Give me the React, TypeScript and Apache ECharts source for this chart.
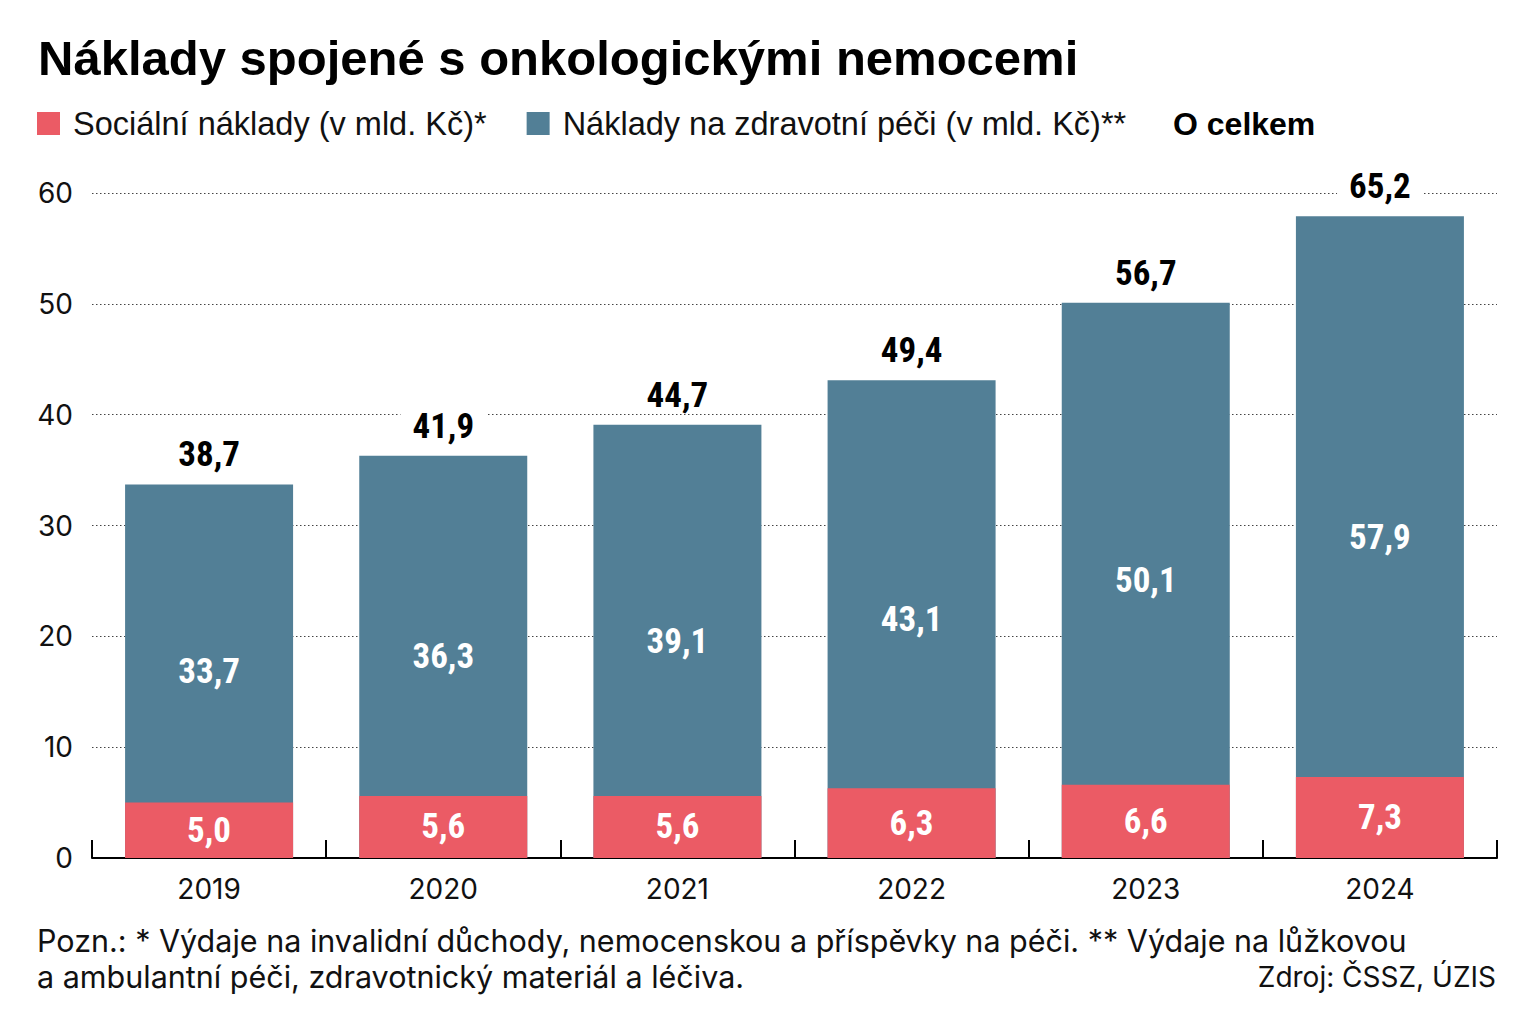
import React, { useEffect, useRef } from "react";
import * as echarts from "echarts";

const years = ["2019", "2020", "2021", "2022", "2023", "2024"];
const socialCosts = [5.0, 5.6, 5.6, 6.3, 6.6, 7.3];
const healthCosts = [33.7, 36.3, 39.1, 43.1, 50.1, 57.9];
const totals = [38.7, 41.9, 44.7, 49.4, 56.7, 65.2];

const titleText = "Náklady spojené s onkologickými nemocemi";
const socialName = "Sociální náklady (v mld. Kč)*";
const healthName = "Náklady na zdravotní péči (v mld. Kč)**";
const totalName = "O celkem";
const noteLines = [
  "Pozn.: * Výdaje na invalidní důchody, nemocenskou a příspěvky na péči. ** Výdaje na lůžkovou",
  "a ambulantní péči, zdravotnický materiál a léčiva.",
];
const sourceText = "Zdroj: ČSSZ, ÚZIS";

const SANS = "'Liberation Sans', Arial, Helvetica, sans-serif";
const WIDE = "Inter, 'Liberation Sans', Arial, sans-serif";
const NARROW = "'Liberation Sans Narrow', 'Arial Narrow', 'Roboto Condensed', sans-serif";
const RED = "#EB5B65";
const BLUE = "#527F96";
const INK = "#111111";

const fmt = (v: number) => v.toFixed(1).replace(".", ",");

export default function App() {
  const ref = useRef<HTMLDivElement>(null);

  useEffect(() => {
    if (!ref.current) return;
    const chart = echarts.init(ref.current, undefined, { renderer: "svg" });

    const numLabel = {
      show: true,
      position: "inside" as const,
      color: "#ffffff",
      fontFamily: NARROW,
      fontWeight: "bold" as const,
      fontSize: 35,
      formatter: (p: any) => fmt(p.value),
    };

    chart.setOption({
      animation: false,
      backgroundColor: "#ffffff",
      title: {
        text: titleText,
        left: 33,
        top: 28,
        textStyle: {
          fontFamily: SANS,
          fontWeight: "bold",
          fontSize: 49,
          color: "#000",
        },
      },
      legend: {
        left: 37,
        top: 107,
        padding: 0,
        itemWidth: 23,
        itemHeight: 23,
        itemGap: 40,
        icon: "rect",
        data: [socialName, healthName],
        textStyle: {
          fontFamily: SANS,
          fontSize: 32.5,
          color: INK,
          padding: [0, 0, 0, 8],
        },
      },
      grid: { left: 92, right: 39, top: 193, bottom: 163, containLabel: false },
      xAxis: {
        type: "category",
        data: years,
        axisLine: { show: true, lineStyle: { color: "#000", width: 2 } },
        axisTick: {
          show: true,
          inside: true,
          length: 18,
          lineStyle: { color: "#000", width: 2 },
        },
        axisLabel: {
          fontFamily: WIDE,
          fontSize: 28,
          color: INK,
          margin: 17,
        },
      },
      yAxis: {
        type: "value",
        min: 0,
        max: 60,
        interval: 10,
        axisLine: { show: false },
        axisTick: { show: false },
        axisLabel: {
          fontFamily: WIDE,
          fontSize: 28,
          color: INK,
          margin: 19,
        },
        splitLine: {
          show: true,
          lineStyle: { color: "#444", width: 1, type: [1.5, 2.5] },
        },
      },
      series: [
        {
          name: healthName,
          type: "bar",
          data: healthCosts,
          barWidth: 168,
          barGap: "-100%",
          itemStyle: { color: BLUE },
          label: numLabel,
          z: 2,
        },
        {
          name: totalName,
          type: "bar",
          data: healthCosts,
          barWidth: 168,
          barGap: "-100%",
          itemStyle: { color: "rgba(0,0,0,0)" },
          silent: true,
          label: {
            show: true,
            position: "top",
            distance: 12,
            color: "#000",
            fontFamily: NARROW,
            fontWeight: "bold",
            fontSize: 35,
            backgroundColor: "#ffffff",
            padding: [0, 12],
            formatter: (p: any) => fmt(totals[p.dataIndex]),
          },
          z: 3,
        },
        {
          name: socialName,
          type: "bar",
          data: socialCosts,
          barWidth: 168,
          barGap: "-100%",
          itemStyle: { color: RED },
          label: numLabel,
          z: 4,
        },
      ],
      graphic: [
        {
          type: "text",
          x: 1173,
          y: 124,
          style: {
            text: totalName,
            fontFamily: SANS,
            fontWeight: "bold",
            fontSize: 32,
            fill: "#000",
            verticalAlign: "middle",
          },
        },
        {
          type: "text",
          x: 37,
          y: 940,
          style: {
            text: noteLines[0],
            fontFamily: WIDE,
            fontSize: 30.5,
            fill: INK,
            verticalAlign: "middle",
          },
        },
        {
          type: "text",
          x: 37,
          y: 976,
          style: {
            text: noteLines[1],
            fontFamily: WIDE,
            fontSize: 30.5,
            fill: INK,
            verticalAlign: "middle",
          },
        },
        {
          type: "text",
          x: 1496,
          y: 977,
          style: {
            text: sourceText,
            fontFamily: WIDE,
            fontSize: 28,
            fill: INK,
            align: "right",
            verticalAlign: "middle",
          },
        },
      ],
    });

    return () => chart.dispose();
  }, []);

  return (
    <div
      ref={ref}
      style={{ position: "absolute", left: 0, top: 0, width: 1536, height: 1021 }}
    />
  );
}
